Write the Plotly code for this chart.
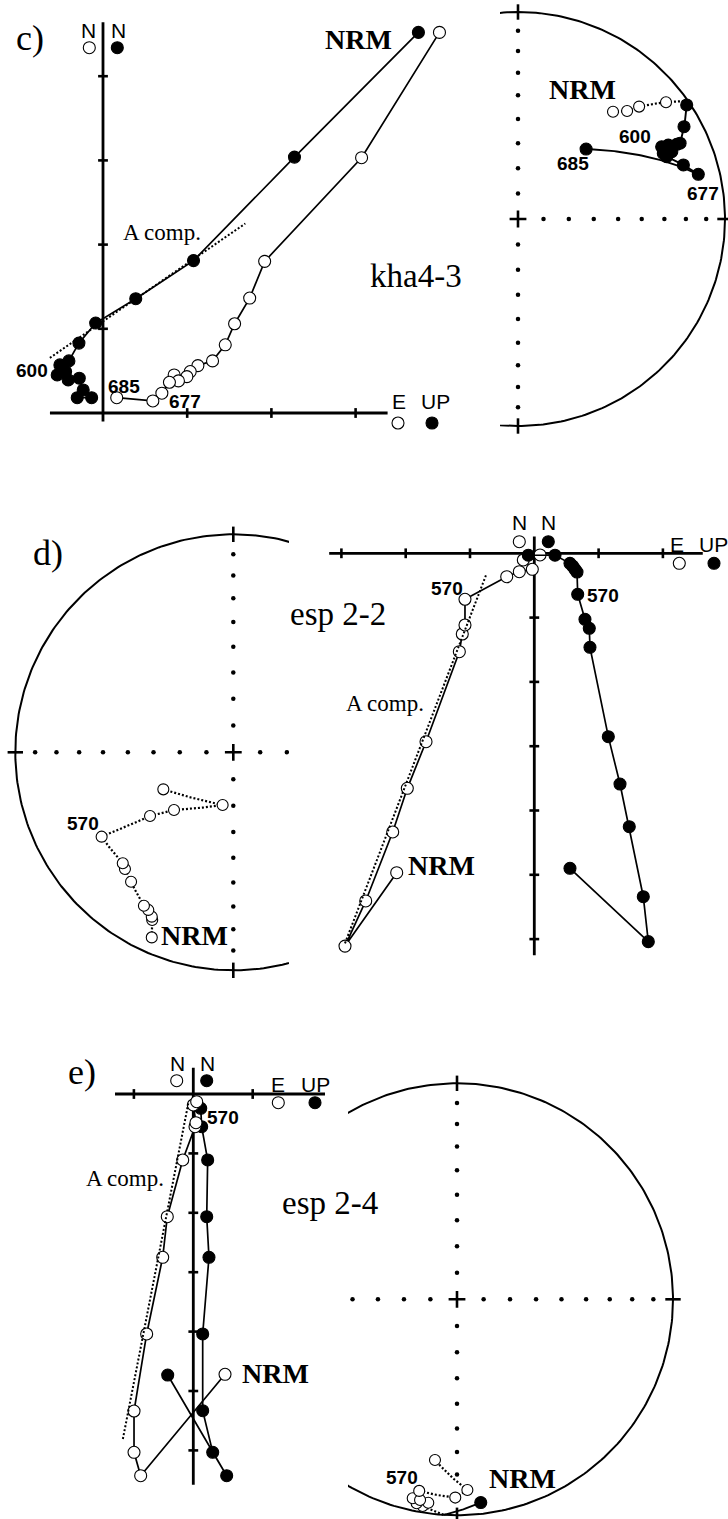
import math
import plotly.graph_objects as go

W, H = 728, 1519
SERIF = "Liberation Serif, Times New Roman, serif"
SANS = "Liberation Sans, Arial, sans-serif"

# ---------------------------------------------------------------------------
# c) kha4-3 -- orthogonal vector projection (units = one axis tick)
# horizontal plane (filled): East vs North ; vertical plane (open): Up vs North
c_hor_e = [3.746, 2.274, 1.075, 0.389, -0.087, -0.286, -0.405, -0.512, -0.544,
           -0.444, -0.413, -0.282, -0.235, -0.135, -0.306]
c_hor_n = [4.520, 3.039, 1.810, 1.357, 1.068, 0.830, 0.619, 0.571, 0.452,
           0.492, 0.393, 0.413, 0.274, 0.182, 0.182]
c_ver_up = [3.996, 3.071, 1.920, 1.742, 1.563, 1.452, 1.301, 1.127, 1.036,
            0.996, 0.845, 0.896, 0.789, 0.699, 0.592, 0.163]
c_ver_n = [4.520, 3.032, 1.801, 1.365, 1.060, 0.810, 0.619, 0.563, 0.492,
           0.432, 0.452, 0.381, 0.365, 0.235, 0.143, 0.182]
c_afit_e = [-0.631, 1.690]
c_afit_n = [0.655, 2.250]
c_axis_e = [-0.63, 3.38]
c_axis_n = [-0.10, 4.64]
c_ticks_e = [1, 2, 3]
c_ticks_n = [1, 2, 3, 4]

# c) equal-area net: (east, north) on the unit primitive, 1 = lower hemisphere
c_net_x = [0.459, 0.527, 0.585, 0.715, 0.815, 0.802, 0.783, 0.767, 0.726, 0.694,
           0.702, 0.743, 0.718, 0.799, 0.871, 0.329]
c_net_y = [0.518, 0.522, 0.543, 0.564, 0.551, 0.446, 0.366, 0.361, 0.357, 0.349,
           0.317, 0.325, 0.301, 0.261, 0.216, 0.338]
c_net_down = [0, 0, 0, 0, 1, 1, 1, 1, 1, 1, 1, 1, 1, 1, 1, 1]

# ---------------------------------------------------------------------------
# d) esp 2-2
d_hor_e = [0.555, 1.773, 1.695, 1.477, 1.333, 1.151, 0.866, 0.855, 0.788, 0.675,
           0.664, 0.633, 0.597, 0.555, 0.322, -0.093]
d_hor_n = [-4.899, -6.040, -5.341, -4.252, -3.588, -2.852, -1.462, -1.166, -1.026,
           -0.638, -0.291, -0.249, -0.198, -0.156, -0.030, -0.030]
d_ver_up = [-2.140, -2.944, -2.622, -2.202, -1.975, -1.684, -1.166, -1.120, -1.078,
            -1.078, -0.429, -0.233, -0.031, -0.171, 0.089]
d_ver_n = [-4.967, -6.109, -5.407, -4.334, -3.655, -2.930, -1.530, -1.255, -1.115,
           -0.715, -0.364, -0.286, -0.249, -0.104, -0.026]
d_afit_up = [-2.944, -0.740]
d_afit_n = [-6.065, -0.311]
d_axis_e = [-3.19, 2.62]
d_axis_n = [-6.25, 0.26]
d_ticks_e = [-3, -2, -1, 1, 2]
d_ticks_n = [-1, -2, -3, -4, -5, -6]

d_net_x = [-0.374, -0.372, -0.374, -0.390, -0.410, -0.469, -0.497, -0.507, -0.604,
           -0.382, -0.272, -0.049, -0.321]
d_net_y = [-0.849, -0.769, -0.754, -0.723, -0.704, -0.594, -0.535, -0.509, -0.387,
           -0.292, -0.265, -0.242, -0.170]
d_net_down = [0] * 13

# ---------------------------------------------------------------------------
# e) esp 2-4
e_hor_e = [-0.431, 0.562, 0.327, 0.158, 0.158, 0.264, 0.226, 0.242, 0.141, 0.125]
e_hor_n = [-4.731, -6.426, -6.032, -5.332, -4.040, -2.749, -2.066, -1.111, -0.551, -0.241]
e_ver_up = [0.534, -0.886, -0.998, -0.998, -0.785, -0.515, -0.438, -0.178, 0.029,
            0.045, 0.0, 0.057]
e_ver_n = [-4.719, -6.426, -6.032, -5.337, -4.040, -2.749, -2.066, -1.111, -0.551,
           -0.483, -0.185, -0.130]
e_afit_up = [-0.084, -1.189]
e_afit_n = [-0.157, -5.825]
e_axis_e = [-1.318, 2.217]
e_axis_n = [-6.58, 0.44]
e_ticks_e = [-1, 1]
e_ticks_n = [-1, -2, -3, -4, -5, -6]

e_net_x = [0.110, -0.159, -0.133, -0.187, -0.205, -0.171, -0.175, -0.008, 0.048, -0.102]
e_net_y = [-0.941, -0.957, -0.942, -0.944, -0.921, -0.929, -0.887, -0.918, -0.883, -0.744]
e_net_down = [1, 0, 0, 0, 0, 0, 0, 0, 0, 0]

net_tick_incs = [80, 70, 60, 50, 40, 30, 20, 10]


# ---------------------------------------------------------------------------
def frame(box, origin, scale):
    """Axis pair covering a pixel box, with `scale` px per data unit."""
    x0, y0, x1, y1 = box
    ox, oy = origin
    xa = dict(domain=[x0 / W, x1 / W], range=[(x0 - ox) / scale, (x1 - ox) / scale],
              visible=False, fixedrange=True)
    ya = dict(domain=[1 - y1 / H, 1 - y0 / H], range=[(oy - y1) / scale, (oy - y0) / scale],
              visible=False, fixedrange=True)
    return xa, ya


def ea_radius(inc):
    return math.sqrt(2) * math.sin(math.radians((90 - abs(inc)) / 2))


def net_to_vec(x, y, down):
    r = min(math.hypot(x, y), 1.0)
    inc = 90 - 2 * math.degrees(math.asin(r / math.sqrt(2)))
    if not down:
        inc = -inc
    dec = math.atan2(x, y)
    c = math.cos(math.radians(inc))
    return (c * math.cos(dec), c * math.sin(dec), math.sin(math.radians(inc)))


def vec_to_net(v):
    n, e, d = v
    L = math.sqrt(n * n + e * e + d * d)
    n, e, d = n / L, e / L, d / L
    h = math.hypot(n, e)
    r = ea_radius(math.degrees(math.asin(min(1.0, abs(d)))))
    if h < 1e-12:
        return 0.0, 0.0
    return r * e / h, r * n / h


def gc_pieces(p, q, steps=48):
    """Great-circle path between two net points, split at the horizontal plane."""
    a, b = net_to_vec(*p), net_to_vec(*q)

    def sample(t0, t1):
        n = max(2, int(steps * (t1 - t0)) + 2)
        out = []
        for k in range(n):
            t = t0 + (t1 - t0) * k / (n - 1)
            out.append(vec_to_net(tuple((1 - t) * a[i] + t * b[i] for i in range(3))))
        return out

    if (a[2] >= 0) == (b[2] >= 0):
        return [(a[2] >= 0, sample(0, 1))]
    tc = a[2] / (a[2] - b[2])
    return [(a[2] >= 0, sample(0, tc)), (b[2] >= 0, sample(tc, 1))]


traces = []


def line_trace(x, y, ax, width=1.6, dash="solid"):
    return go.Scatter(x=x, y=y, mode="lines", xaxis=ax[0], yaxis=ax[1],
                      line=dict(color="black", width=width, dash=dash),
                      hoverinfo="skip")


def pts_trace(x, y, ax, filled, size=12, lines=True):
    return go.Scatter(
        x=x, y=y, mode="lines+markers" if lines else "markers",
        xaxis=ax[0], yaxis=ax[1],
        line=dict(color="black", width=1.7),
        marker=dict(size=size, color="black" if filled else "white",
                    line=dict(color="black", width=1.1)),
        hoverinfo="skip")


def zijderveld(ax, hor_e, hor_n, ver_up, ver_n, fit_x, fit_y, axis_e, axis_n,
               ticks_e, ticks_n, open_on_top=False):
    traces.append(line_trace(axis_e, [0, 0], ax, width=2.8))
    traces.append(line_trace([0, 0], axis_n, ax, width=2.8))
    traces.append(go.Scatter(x=ticks_e, y=[0] * len(ticks_e), mode="markers",
                             xaxis=ax[0], yaxis=ax[1], hoverinfo="skip",
                             marker=dict(symbol="line-ns", size=7,
                                         line=dict(color="black", width=2.6))))
    traces.append(go.Scatter(x=[0] * len(ticks_n), y=ticks_n, mode="markers",
                             xaxis=ax[0], yaxis=ax[1], hoverinfo="skip",
                             marker=dict(symbol="line-ew", size=7,
                                         line=dict(color="black", width=2.6))))
    open_tr = pts_trace(ver_up, ver_n, ax, False)
    fill_tr = pts_trace(hor_e, hor_n, ax, True)
    if open_on_top:
        traces.extend([fill_tr, open_tr])
    else:
        traces.extend([open_tr, fill_tr])
    traces.append(line_trace(fit_x, fit_y, ax, width=2.0, dash="2px,2px"))


def stereonet(ax, nx, ny, down, msize=11):
    th = [math.radians(k) for k in range(0, 361)]
    traces.append(line_trace([math.sin(t) for t in th], [math.cos(t) for t in th],
                             ax, width=2.0))
    radii = [ea_radius(i) for i in net_tick_incs]
    dx = radii + [-r for r in radii] + [0] * (2 * len(radii))
    dy = [0] * (2 * len(radii)) + radii + [-r for r in radii]
    traces.append(go.Scatter(x=dx, y=dy, mode="markers", xaxis=ax[0], yaxis=ax[1],
                             hoverinfo="skip",
                             marker=dict(size=4.5, color="black", line=dict(width=0))))
    traces.append(go.Scatter(x=[0], y=[0], mode="markers", xaxis=ax[0], yaxis=ax[1],
                             hoverinfo="skip",
                             marker=dict(symbol="cross-thin", size=12,
                                         line=dict(color="black", width=2.6))))
    traces.append(go.Scatter(x=[0, 0], y=[1, -1], mode="markers", xaxis=ax[0],
                             yaxis=ax[1], hoverinfo="skip",
                             marker=dict(symbol="line-ns", size=11,
                                         line=dict(color="black", width=2.6))))
    traces.append(go.Scatter(x=[1, -1], y=[0, 0], mode="markers", xaxis=ax[0],
                             yaxis=ax[1], hoverinfo="skip",
                             marker=dict(symbol="line-ew", size=11,
                                         line=dict(color="black", width=2.6))))
    # demagnetisation path along great circles
    sx, sy, ux, uy = [], [], [], []
    for i in range(len(nx) - 1):
        for lower, seg in gc_pieces((nx[i], ny[i], down[i]),
                                    (nx[i + 1], ny[i + 1], down[i + 1])):
            xs = [p[0] for p in seg] + [None]
            ys = [p[1] for p in seg] + [None]
            if lower:
                sx += xs; sy += ys
            else:
                ux += xs; uy += ys
    traces.append(line_trace(ux, uy, ax, width=2.2, dash="2px,2px"))
    traces.append(line_trace(sx, sy, ax, width=1.9))
    ox = [x for x, d in zip(nx, down) if not d]
    oy = [y for y, d in zip(ny, down) if not d]
    fx = [x for x, d in zip(nx, down) if d]
    fy = [y for y, d in zip(ny, down) if d]
    traces.append(pts_trace(ox, oy, ax, False, size=msize, lines=False))
    traces.append(pts_trace(fx, fy, ax, True, size=msize + 1, lines=False))


layout = dict(width=W, height=H, margin=dict(l=0, r=0, t=0, b=0),
              paper_bgcolor="white", plot_bgcolor="white", showlegend=False)

frames = [
    ((0, 0, 500, 445), (103, 413), 84.2),          # c) vector plot
    ((500, 0, 728, 445), (518, 219), 207),         # c) net
    ((0, 505, 289, 1000), (233.3, 752.3), 218),    # d) net
    ((289, 505, 728, 1000), (534.3, 553.3), 64.3), # d) vector plot
    ((60, 1040, 348, 1519), (193.3, 1094), 59.4),  # e) vector plot
    ((348, 1065, 728, 1519), (457, 1299.3), 216),  # e) net
]
axes = []
for k, (box, origin, scale) in enumerate(frames, start=1):
    xa, ya = frame(box, origin, scale)
    sfx = "" if k == 1 else str(k)
    xa["anchor"] = "y" + sfx
    ya["anchor"] = "x" + sfx
    layout["xaxis" + sfx] = xa
    layout["yaxis" + sfx] = ya
    axes.append(("x" + sfx, "y" + sfx))

zijderveld(axes[0], c_hor_e, c_hor_n, c_ver_up, c_ver_n, c_afit_e, c_afit_n,
           c_axis_e, c_axis_n, c_ticks_e, c_ticks_n)
stereonet(axes[1], c_net_x, c_net_y, c_net_down)
stereonet(axes[2], d_net_x, d_net_y, d_net_down)
zijderveld(axes[3], d_hor_e, d_hor_n, d_ver_up, d_ver_n, d_afit_up, d_afit_n,
           d_axis_e, d_axis_n, d_ticks_e, d_ticks_n)
zijderveld(axes[4], e_hor_e, e_hor_n, e_ver_up, e_ver_n, e_afit_up, e_afit_n,
           e_axis_e, e_axis_n, e_ticks_e, e_ticks_n, open_on_top=True)
stereonet(axes[5], e_net_x, e_net_y, e_net_down)

# ---------------------------------------------------------------------------
annotations = []


def label(text, px, py, family=SANS, size=19):
    annotations.append(dict(text=text, x=px / W, y=1 - py / H, xref="paper",
                            yref="paper", xanchor="center", yanchor="middle",
                            showarrow=False,
                            font=dict(family=family, size=size, color="black")))


AX = 21  # size of the axis-name letters
# c)
label("c)", 30, 38, SERIF, 36)
label("N", 88.5, 30.5, size=AX); label("N", 118.5, 30.5, size=AX)
label("E", 399, 401, size=AX); label("UP", 435, 401, size=AX)
label("<b>NRM</b>", 358, 40, SERIF, 28)
label("A comp.", 162, 232, SERIF, 23)
label("kha4-3", 416, 276, SERIF, 33)
label("<b>600</b>", 32, 371); label("<b>685</b>", 124, 386); label("<b>677</b>", 185, 402)
label("<b>NRM</b>", 582, 90, SERIF, 28)
label("<b>600</b>", 635, 136); label("<b>685</b>", 573, 164); label("<b>677</b>", 703, 193)
# d)
label("d)", 48, 553, SERIF, 36)
label("N", 519, 523, size=AX); label("N", 548, 523, size=AX)
label("E", 677, 544, size=AX); label("UP", 713, 544, size=AX)
label("<b>570</b>", 447, 588); label("<b>570</b>", 603, 595)
label("<b>NRM</b>", 442, 865, SERIF, 28)
label("A comp.", 385, 703, SERIF, 23)
label("esp 2-2", 338, 614, SERIF, 33)
label("<b>570</b>", 83, 823)
label("<b>NRM</b>", 194, 935, SERIF, 28)
# e)
label("e)", 82, 1072, SERIF, 36)
label("N", 177, 1063, size=AX); label("N", 207, 1063, size=AX)
label("E", 278, 1084, size=AX); label("UP", 315, 1084, size=AX)
label("<b>570</b>", 223, 1117)
label("A comp.", 125, 1178, SERIF, 23)
label("<b>NRM</b>", 275, 1373, SERIF, 28)
label("esp 2-4", 330, 1203, SERIF, 33)
label("<b>570</b>", 402, 1477)
label("<b>NRM</b>", 522, 1478, SERIF, 28)

# key symbols under the axis names: open = vertical plane, filled = horizontal plane
shapes = []


def key_dot(px, py, filled, r=6):
    shapes.append(dict(type="circle", xref="paper", yref="paper",
                       x0=(px - r) / W, x1=(px + r) / W,
                       y0=1 - (py + r) / H, y1=1 - (py - r) / H,
                       line=dict(color="black", width=1.1),
                       fillcolor="black" if filled else "white", layer="above"))


for (ox_, oy_), (fx_, fy_) in [((89.3, 47.7), (117.3, 47.7)), ((398, 423), (432, 423)),
                               ((519.3, 541.7), (548.3, 541.7)), ((679.3, 563.3), (714, 563.3)),
                               ((176.7, 1080.7), (206.7, 1080.7)), ((278.3, 1102.7), (315, 1102.7))]:
    key_dot(ox_, oy_, False)
    key_dot(fx_, fy_, True)

layout["annotations"] = annotations
layout["shapes"] = shapes

fig = go.Figure(data=traces, layout=layout)
fig.write_html("out.html")
